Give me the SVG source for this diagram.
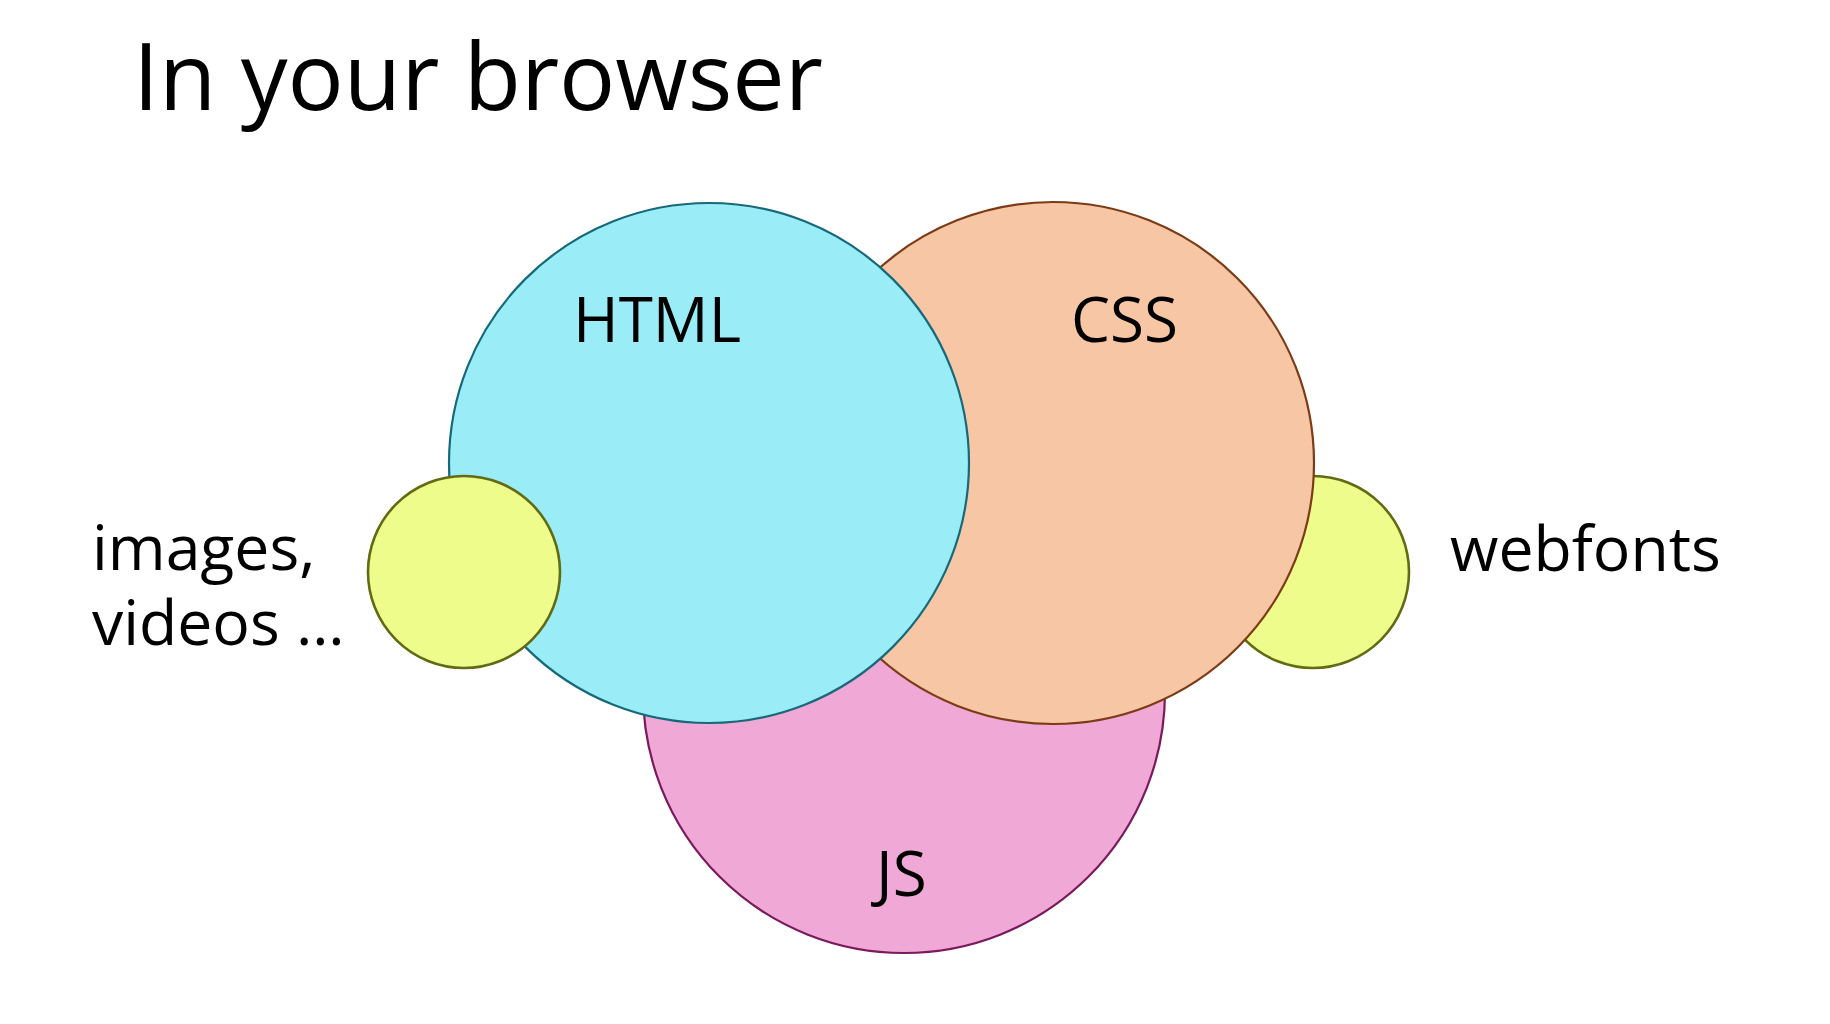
<svg xmlns="http://www.w3.org/2000/svg" width="1830" height="1024" viewBox="0 0 1830 1024">
<style>
text{font-family:"Open Sans","Noto Sans","DejaVu Sans",sans-serif;fill:#000}
.title{font-size:93.5px}
.lbl{font-size:62px}
.side{font-size:62.5px}
.html{fill:#9aedf6;stroke:#16697a;stroke-width:2.2}
.css{fill:#f6c6a5;stroke:#7d3b15;stroke-width:2.2}
.js{fill:#f0a8d6;stroke:#7a1a5c;stroke-width:2.2}
.extra{fill:#eefc8c;stroke:#626a12;stroke-width:2.6}
</style>
<rect width="1830" height="1024" fill="#fff"/>
<text class="title" x="133" y="110">In your browser</text>
<g id="js"><circle class="js" cx="904" cy="692" r="261"/></g>
<g id="webfonts"><circle class="extra" cx="1313" cy="572" r="96"/></g>
<g id="css"><circle class="css" cx="1053" cy="463" r="261"/></g>
<g id="html"><circle class="html" cx="709" cy="463" r="260"/></g>
<g id="images"><circle class="extra" cx="464" cy="572" r="96"/></g>
<g id="connectors"></g>
<g id="labels">
<text class="lbl" x="573" y="342">HTML</text>
<text class="lbl" x="1071" y="342">CSS</text>
<text class="lbl" x="876" y="896">JS</text>
<text class="side" x="92" y="570"><tspan x="92" y="570">images,</tspan><tspan x="92" y="645">videos …</tspan></text>
<text class="side" x="1450" y="571">webfonts</text>
</g>
</svg>
